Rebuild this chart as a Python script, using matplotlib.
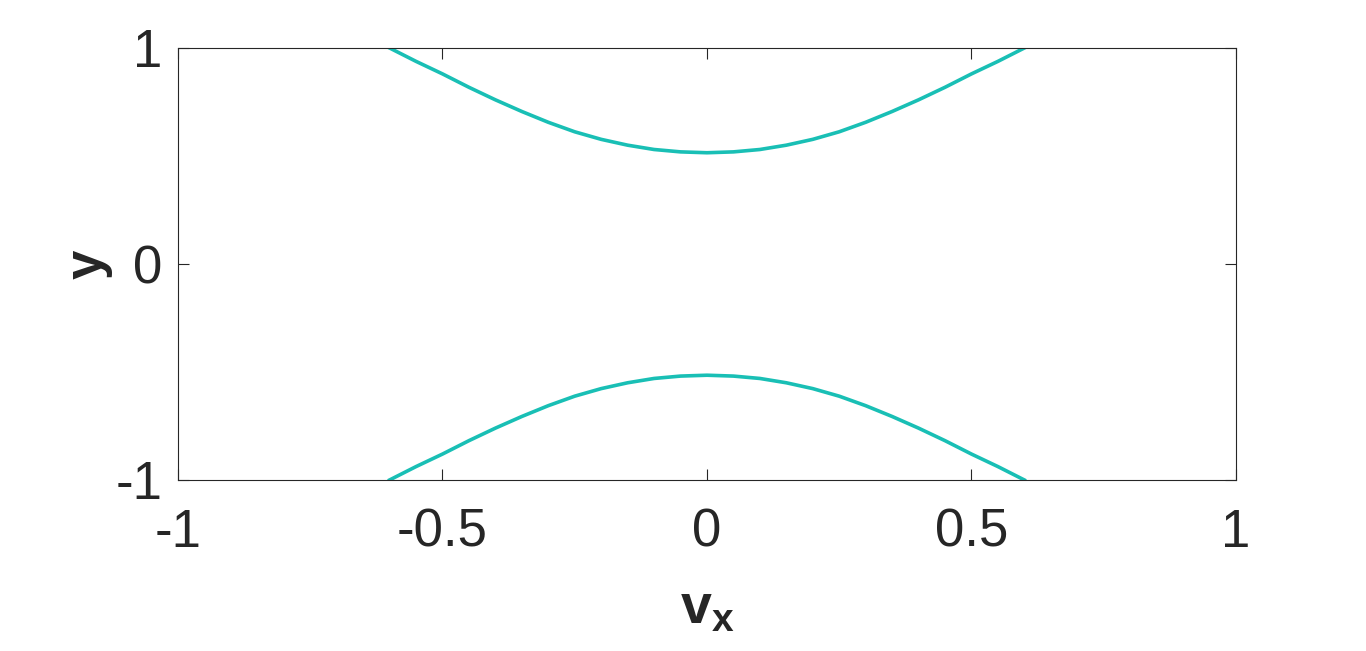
import matplotlib.pyplot as plt

# upper branch (lower branch is its mirror)
vx = [-0.60, -0.55, -0.50, -0.45, -0.40, -0.35, -0.30, -0.25, -0.20, -0.15, -0.10, -0.05,
      0.00, 0.05, 0.10, 0.15, 0.20, 0.25, 0.30, 0.35, 0.40, 0.45, 0.50, 0.55, 0.60]
y_upper = [1.000, 0.938, 0.880, 0.818, 0.760, 0.706, 0.656, 0.612, 0.577, 0.550, 0.530, 0.519,
           0.515, 0.519, 0.530, 0.550, 0.577, 0.612, 0.656, 0.706, 0.760, 0.818, 0.880, 0.938, 1.000]
y_lower = [-v for v in y_upper]

x_ticks = [-1, -0.5, 0, 0.5, 1]
x_labels = ["-1", "-0.5", "0", "0.5", "1"]
y_ticks = [-1, 0, 1]
y_labels = ["-1", "0", "1"]

line_color = "#19BFB5"
text_color = "#262626"

plt.rcParams["font.family"] = ["Liberation Sans", "DejaVu Sans"]
plt.rcParams["mathtext.fontset"] = "custom"
plt.rcParams["mathtext.bf"] = "Liberation Sans:bold"
plt.rcParams["mathtext.rm"] = "Liberation Sans"

fig = plt.figure(figsize=(13.66, 6.51), dpi=100)
ax = fig.add_axes([0.1303, 0.2627, 0.7745, 0.6636])

ax.plot(vx, y_upper, color=line_color, linewidth=2.6)
ax.plot(vx, y_lower, color=line_color, linewidth=2.6)

ax.set_xlim(-1, 1)
ax.set_ylim(-1, 1)
ax.set_xticks(x_ticks)
ax.set_xticklabels(x_labels)
ax.set_yticks(y_ticks)
ax.set_yticklabels(y_labels)

ax.tick_params(direction="in", length=8, width=0.8, colors=text_color,
               labelsize=38, top=True, right=True)
ax.tick_params(axis="x", pad=20)
ax.tick_params(axis="y", pad=11)
for spine in ax.spines.values():
    spine.set_color(text_color)
    spine.set_linewidth(0.8)

ax.set_xlabel(r"$\mathbf{v_x}$", fontsize=40, color=text_color)
ax.xaxis.set_label_coords(0.5, -0.24)
ax.set_ylabel("y", fontsize=38, fontweight="bold", color=text_color)
ax.yaxis.set_label_coords(-0.062, 0.5)

fig.savefig("out.png", dpi=100)
